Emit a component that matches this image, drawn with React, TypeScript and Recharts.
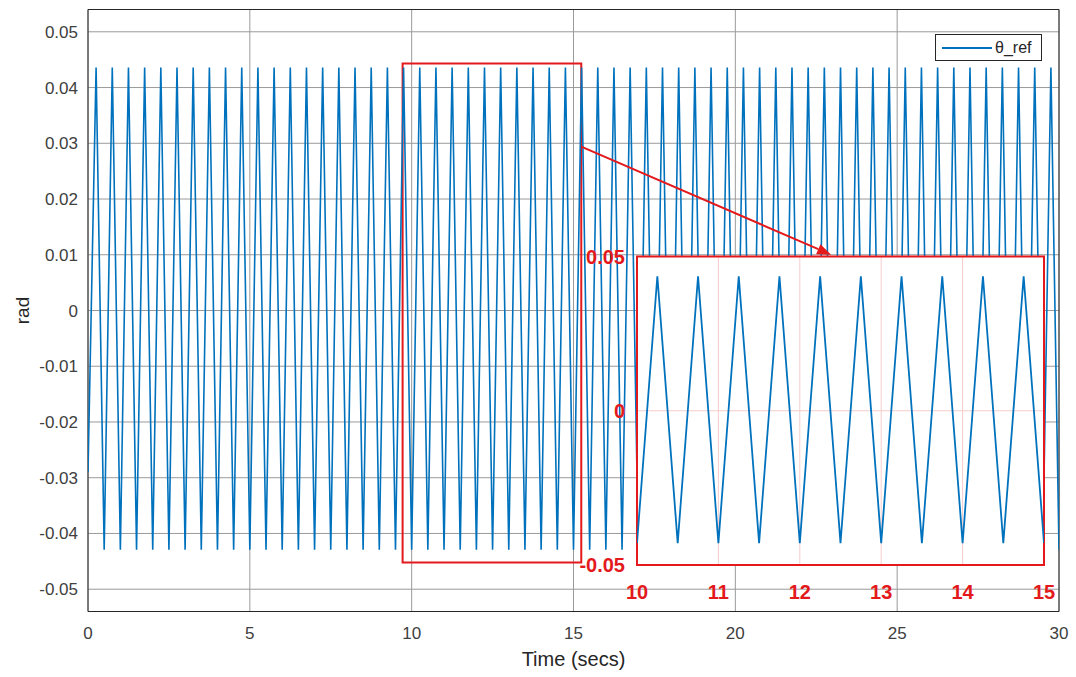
import React from "react"
import {
  LineChart,
  Line,
  XAxis,
  YAxis,
  CartesianGrid,
  ReferenceArea,
  ReferenceLine,
  Legend,
} from "recharts"

// scope trace: sample times (s) and reference angle (rad)
const TIME = [
  0, 0.25, 0.5, 0.75, 1, 1.25, 1.5, 1.75,
  2, 2.25, 2.5, 2.75, 3, 3.25, 3.5, 3.75,
  4, 4.25, 4.5, 4.75, 5, 5.25, 5.5, 5.75,
  6, 6.25, 6.5, 6.75, 7, 7.25, 7.5, 7.75,
  8, 8.25, 8.5, 8.75, 9, 9.25, 9.5, 9.75,
  10, 10.25, 10.5, 10.75, 11, 11.25, 11.5, 11.75,
  12, 12.25, 12.5, 12.75, 13, 13.25, 13.5, 13.75,
  14, 14.25, 14.5, 14.75, 15, 15.25, 15.5, 15.75,
  16, 16.25, 16.5, 16.75, 17, 17.25, 17.5, 17.75,
  18, 18.25, 18.5, 18.75, 19, 19.25, 19.5, 19.75,
  20, 20.25, 20.5, 20.75, 21, 21.25, 21.5, 21.75,
  22, 22.25, 22.5, 22.75, 23, 23.25, 23.5, 23.75,
  24, 24.25, 24.5, 24.75, 25, 25.25, 25.5, 25.75,
  26, 26.25, 26.5, 26.75, 27, 27.25, 27.5, 27.75,
  28, 28.25, 28.5, 28.75, 29, 29.25, 29.5, 29.75,
  30,
]

const THETA_REF = [
  -0.029, 0.0436, -0.0429, 0.0436, -0.0429, 0.0436, -0.0429, 0.0436,
  -0.0429, 0.0436, -0.0429, 0.0436, -0.0429, 0.0436, -0.0429, 0.0436,
  -0.0429, 0.0436, -0.0429, 0.0436, -0.0429, 0.0436, -0.0429, 0.0436,
  -0.0429, 0.0436, -0.0429, 0.0436, -0.0429, 0.0436, -0.0429, 0.0436,
  -0.0429, 0.0436, -0.0429, 0.0436, -0.0429, 0.0436, -0.0429, 0.0436,
  -0.0429, 0.0436, -0.0429, 0.0436, -0.0429, 0.0436, -0.0429, 0.0436,
  -0.0429, 0.0436, -0.0429, 0.0436, -0.0429, 0.0436, -0.0429, 0.0436,
  -0.0429, 0.0436, -0.0429, 0.0436, -0.0429, 0.0436, -0.0429, 0.0436,
  -0.0429, 0.0436, -0.0429, 0.0436, -0.0429, 0.0436, -0.0429, 0.0436,
  -0.0429, 0.0436, -0.0429, 0.0436, -0.0429, 0.0436, -0.0429, 0.0436,
  -0.0429, 0.0436, -0.0429, 0.0436, -0.0429, 0.0436, -0.0429, 0.0436,
  -0.0429, 0.0436, -0.0429, 0.0436, -0.0429, 0.0436, -0.0429, 0.0436,
  -0.0429, 0.0436, -0.0429, 0.0436, -0.0429, 0.0436, -0.0429, 0.0436,
  -0.0429, 0.0436, -0.0429, 0.0436, -0.0429, 0.0436, -0.0429, 0.0436,
  -0.0429, 0.0436, -0.0429, 0.0436, -0.0429, 0.0436, -0.0429, 0.0436,
  -0.0429,
]

const X_TICKS = [0, 5, 10, 15, 20, 25, 30]
const Y_TICKS = [-0.05, -0.04, -0.03, -0.02, -0.01, 0, 0.01, 0.02, 0.03, 0.04, 0.05]

// zoomed window 10..15 s
const ZOOM_X_TICKS = [10, 11, 12, 13, 14, 15]
const ZOOM_Y_TICKS = [-0.05, 0, 0.05]

const BLUE = "#0072bd"
const RED = "#e3191c"
const FONT = "'Liberation Sans', Arial, 'DejaVu Sans', sans-serif"

const data = TIME.map((t, i) => ({ t, theta: THETA_REF[i] }))
const zoomData = data.filter((d) => d.t >= 10 && d.t <= 15)

const fmt = (v: number) => (v === 0 ? "0" : v.toFixed(2))

// red pointer from the highlighted window to the zoom panel
const Arrow = (props: any) => {
  const { x1, y1, x2, y2 } = props
  const dx = x2 - x1
  const dy = y2 - y1
  const len = Math.sqrt(dx * dx + dy * dy) || 1
  const ux = dx / len
  const uy = dy / len
  const head = 14
  const half = 5.5
  const bx = x2 - ux * head
  const by = y2 - uy * head
  return (
    <g>
      <line x1={x1} y1={y1} x2={bx} y2={by} stroke={RED} strokeWidth={2} />
      <polygon
        points={`${x2},${y2} ${bx - uy * half},${by + ux * half} ${bx + uy * half},${by - ux * half}`}
        fill={RED}
      />
    </g>
  )
}

const LegendBox = ({ payload }: any) => (
  <div
    style={{
      border: "1px solid #262626",
      background: "#fff",
      height: 27,
      display: "flex",
      alignItems: "center",
      paddingLeft: 6,
      boxSizing: "border-box",
    }}
  >
    {(payload || []).map((entry: any) => (
      <div key={entry.value} style={{ display: "flex", alignItems: "center" }}>
        <svg width={50} height={10}>
          <line x1={0} y1={5} x2={50} y2={5} stroke={BLUE} strokeWidth={2} />
        </svg>
        <span style={{ fontSize: 16, color: "#262626", marginLeft: 3 }}>{entry.value}</span>
      </div>
    ))}
  </div>
)

export default function App() {
  return (
    <div
      style={{
        position: "absolute",
        left: 0,
        top: 0,
        width: 1076,
        height: 677,
        background: "#fff",
        fontFamily: FONT,
      }}
    >
      <LineChart width={1076} height={677} data={data} margin={{ top: 9.5, right: 17, bottom: 35.5, left: 28 }}>
        <CartesianGrid stroke="#9a9a9a" strokeWidth={1} />
        <XAxis
          dataKey="t"
          type="number"
          domain={[0, 30]}
          ticks={X_TICKS}
          allowDataOverflow
          height={30}
          axisLine={false}
          tickLine={false}
          tickSize={0}
          tickMargin={15}
          tick={{ fill: "#404040", fontSize: 17 }}
          label={{ value: "Time (secs)", position: "bottom", offset: 10, fill: "#262626", fontSize: 20 }}
        />
        <YAxis
          type="number"
          domain={[-0.054, 0.054]}
          ticks={Y_TICKS}
          allowDataOverflow
          width={60}
          axisLine={false}
          tickLine={false}
          tickSize={0}
          tickMargin={10}
          tickFormatter={fmt}
          tick={{ fill: "#404040", fontSize: 17 }}
          label={{
            value: "rad",
            angle: -90,
            position: "left",
            offset: 6,
            fill: "#262626",
            fontSize: 19,
            style: { textAnchor: "middle" },
          }}
        />
        <Line
          dataKey="theta"
          name="θ_ref"
          type="linear"
          stroke={BLUE}
          strokeWidth={1.6}
          dot={false}
          isAnimationActive={false}
        />
        <ReferenceArea x1={0} x2={30} y1={-0.054} y2={0.054} stroke="#262626" strokeWidth={1} fill="none" />
        <ReferenceArea x1={9.72} x2={15.24} y1={-0.0452} y2={0.0443} stroke={RED} strokeWidth={2} fill="none" />
        <ReferenceLine
          segment={[
            { x: 15.24, y: 0.0294 },
            { x: 22.96, y: 0.01 },
          ]}
          shape={Arrow}
        />
        <Legend
          layout="horizontal"
          align="center"
          verticalAlign="middle"
          content={LegendBox}
          wrapperStyle={{ left: 935, top: 34, width: 107, height: 27 }}
        />
      </LineChart>

      {/* zoom panel for 10..15 s */}
      <div style={{ position: "absolute", left: 560, top: 240 }}>
        <LineChart width={500} height={370} data={zoomData} margin={{ top: 16.5, right: 16, bottom: 15, left: 17 }}>
          <CartesianGrid stroke="#f6cccc" strokeWidth={1} fill="#fff" fillOpacity={1} />
          <XAxis
            dataKey="t"
            type="number"
            domain={[10, 15]}
            ticks={ZOOM_X_TICKS}
            allowDataOverflow
            height={30}
            axisLine={false}
            tickLine={false}
            tickSize={0}
            tickMargin={20}
            tick={{ fill: RED, fontSize: 20, fontWeight: 700 }}
          />
          <YAxis
            type="number"
            domain={[-0.05, 0.05]}
            ticks={ZOOM_Y_TICKS}
            allowDataOverflow
            width={60}
            axisLine={false}
            tickLine={false}
            tickSize={0}
            tickMargin={12}
            tickFormatter={fmt}
            tick={{ fill: RED, fontSize: 20, fontWeight: 700 }}
          />
          <Line
            dataKey="theta"
            type="linear"
            stroke={BLUE}
            strokeWidth={1.8}
            dot={false}
            isAnimationActive={false}
          />
          <ReferenceArea x1={10} x2={15} y1={-0.05} y2={0.05} stroke={RED} strokeWidth={2} fill="none" />
        </LineChart>
      </div>
    </div>
  )
}
